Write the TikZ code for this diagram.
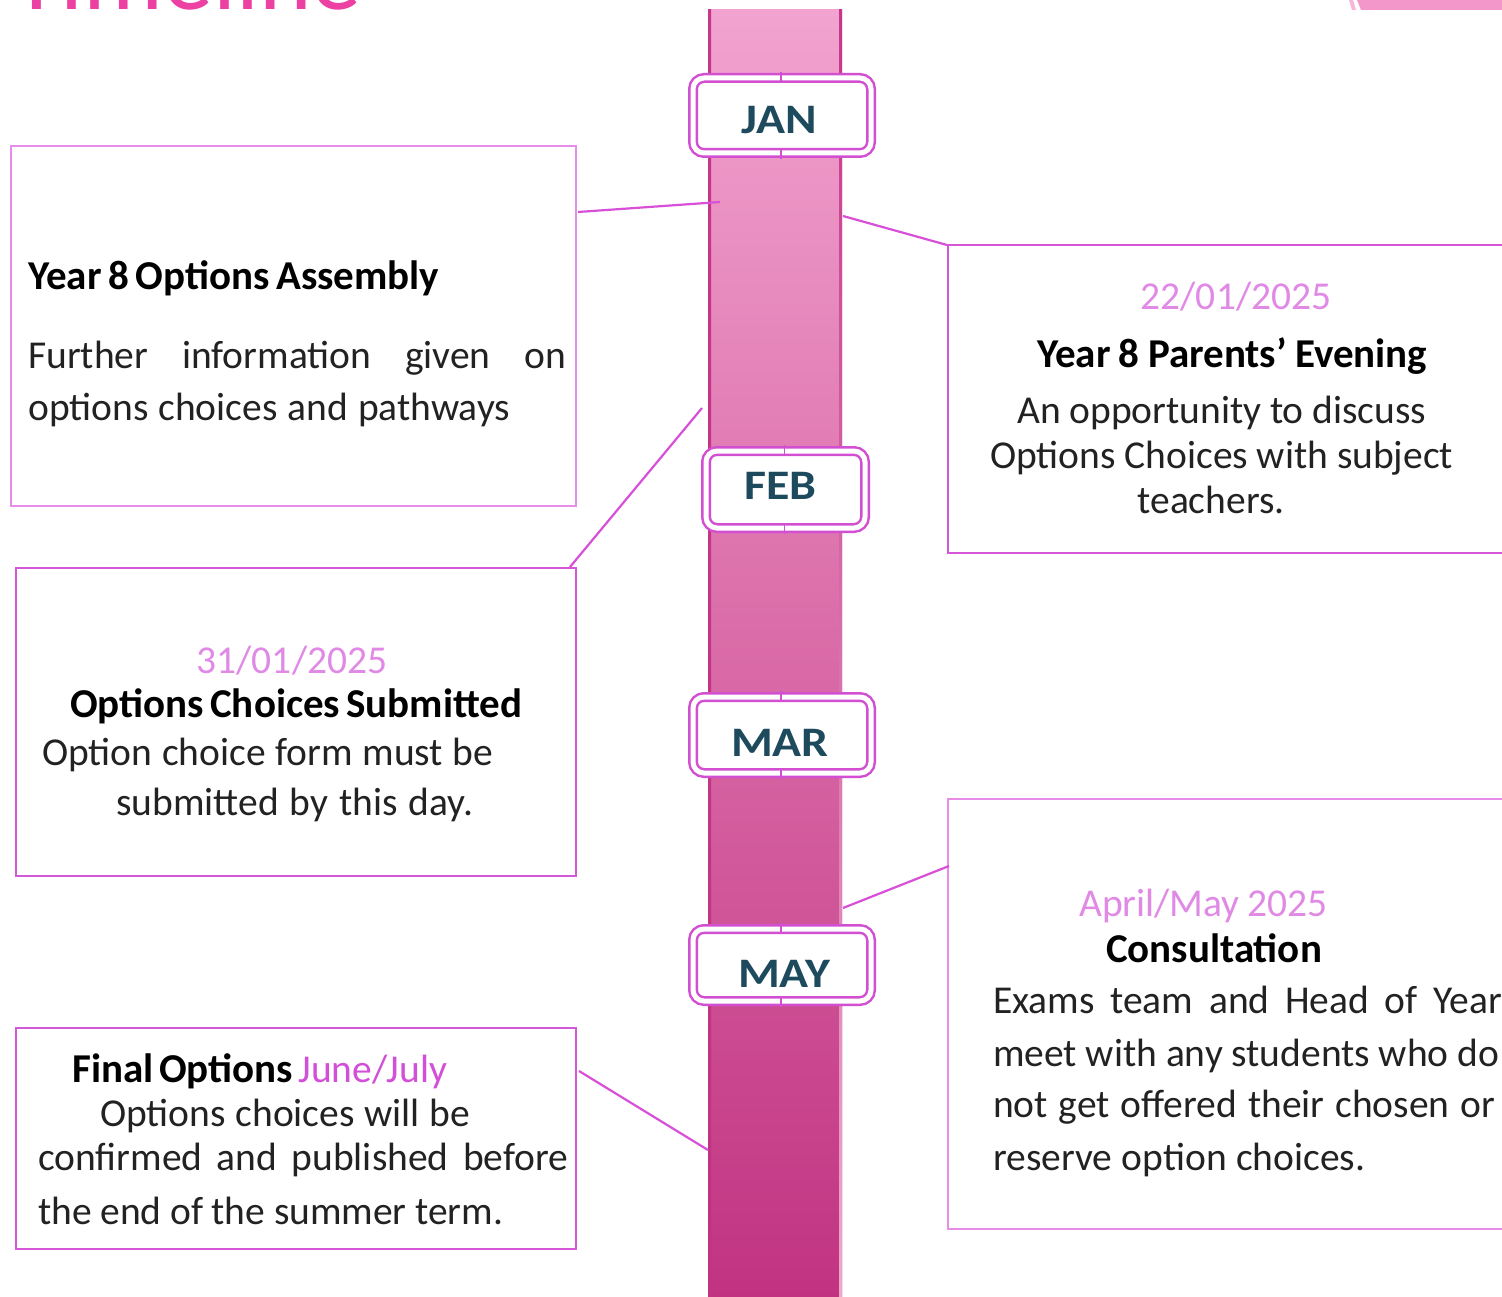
\documentclass[tikz,border=0pt]{standalone}
\usepackage{fontspec}
\usepackage{graphicx}
\setmainfont{Carlito}
\usetikzlibrary{calc}
\definecolor{barTop}{HTML}{F2A3CF}
\definecolor{barMid}{HTML}{DE7BB3}
\definecolor{barBot}{HTML}{C13381}
\definecolor{edgeDark}{HTML}{C4378A}
\definecolor{edgeLight}{HTML}{EBA9CD}
\definecolor{mline}{HTML}{D24FD2}
\definecolor{boxA}{HTML}{E68DEA}
\definecolor{boxB}{HTML}{D457D8}
\definecolor{connC}{HTML}{D850D8}
\definecolor{dateC}{HTML}{E08AE6}
\definecolor{juneC}{HTML}{D24FD8}
\definecolor{monthC}{HTML}{1E4A5E}
\definecolor{titleC}{HTML}{EC40A2}
\definecolor{cornerC}{HTML}{F397CA}
\definecolor{bodyC}{HTML}{222222}
\tikzset{
  evbox/.style={draw=boxB, line width=2pt, fill=white, rectangle, inner sep=0pt, anchor=north west},
  mbox/.style={draw=mline, line width=2.5pt, double=white, double distance=5pt, fill=white, rounded corners=11pt, inner sep=0pt},
  mtext/.style={text=monthC, font=\fontsize{42}{42}\selectfont\bfseries, inner sep=0pt},
  txt/.style={inner sep=0pt, font=\fontsize{39.5}{46}\selectfont, text=bodyC},
  connL/.style={draw=connC, line width=2.2pt},
  tickL/.style={draw=mline, line width=1.5pt}
}
\newcommand\jl[6]{\node[txt,anchor=base west] (#1) at (#2,#3) {\hbox to #4pt{#5\spaceskip=.22em plus 5em minus .1em\relax #6}};}
\newcommand\hb{\fontsize{41}{46}\selectfont\bfseries\color{black}}
\newcommand\mlab[1]{\scalebox{1.14}[1]{#1}}
\begin{document}
\begin{tikzpicture}[x=1pt,y=-1pt]
\useasboundingbox (0,0) rectangle (1502,1297);
\clip (0,0) rectangle (1502,1297);
\fill[white] (0,0) rectangle (1502,1297);

% cut-off title and corner shape
\node[anchor=base west, inner sep=0pt, text=titleC, font=\fontsize{100}{100}\selectfont] (title) at (12,10) {Timeline};
\fill[cornerC!70!white] (1349,0) -- (1353,0) -- (1356,10) -- (1352,10) -- cycle;
\fill[cornerC] (1357,0) -- (1502,0) -- (1502,10) -- (1361,10) -- cycle;

% timeline bar
\shade[top color=barTop, middle color=barMid, bottom color=barBot] (708,10) rectangle (842,1297);
\shade[top color=edgeDark, bottom color=barBot] (708,10) rectangle (711,1297);
\shade[top color=edgeDark, bottom color=edgeLight] (839,10) rectangle (842,1297);

% event boxes
\node[evbox, draw=boxA, minimum width=565pt, minimum height=360pt] (asmbox) at (10,145) {};
\node[evbox, minimum width=573pt, minimum height=308pt] (parbox) at (947,244) {};
\node[evbox, minimum width=560pt, minimum height=308pt] (subbox) at (15,567) {};
\node[evbox, draw=boxA, minimum width=573pt, minimum height=430pt] (conbox) at (947,798) {};
\node[evbox, minimum width=560pt, minimum height=221pt] (finbox) at (15,1027) {};

% connectors
\coordinate (b1) at (720,202);
\coordinate (b2) at (843,216);
\coordinate (b3) at (702,408);
\coordinate (b4) at (843,908);
\coordinate (b5) at (708,1150);
\draw[connL] ($(asmbox.north east)+(1,67)$) -- (b1);
\draw[connL] (b2) -- ($(parbox.north west)+(0,1)$);
\draw[connL] ($(subbox.north east)+(-7,0)$) -- (b3);
\draw[connL] (b4) -- ($(conbox.north west)+(2,68)$);
\draw[connL] ($(finbox.north east)+(2,44)$) -- (b5);

% month boxes
\node[mbox, minimum width=178pt, minimum height=75pt] (jan) at (782,115.5) {};
\node[mbox, minimum width=159pt, minimum height=77pt] (feb) at (785.5,489.5) {};
\node[mbox, minimum width=178pt, minimum height=76pt] (mar) at (782,735) {};
\node[mbox, minimum width=178pt, minimum height=72pt] (may) at (782,965) {};
\foreach \m in {jan,feb,mar,may}{
  \draw[tickL] ($(\m.north)+(-1,-5)$) -- ($(\m.north)+(-1,5)$);
  \draw[tickL] ($(\m.south)+(-1,-5)$) -- ($(\m.south)+(-1,5)$);
}
\node[mtext] (jant) at (779.5,120) {\mlab{JAN}};
\node[mtext] (febt) at (780.5,486) {\mlab{FEB}};
\node[mtext] (mart) at (780,743) {\mlab{MAR}};
\node[mtext] (mayt) at (784,974) {\mlab{MAY}};

% Assembly
\jl{a1}{28}{290}{411}{\hb}{Year 8 Options Assembly}
\jl{a2}{28}{368}{538}{}{Further information given on}
\jl{a3}{28}{420}{482}{}{options choices and pathways}

% Parents' evening
\node[txt, anchor=base, text=dateC] (p0) at (1236,310) {22/01/2025};
\jl{p1}{1037}{367}{390}{\hb}{Year 8 Parents’ Evening}
\jl{p2}{1017}{423}{409}{}{An opportunity to discuss}
\jl{p3}{990}{468}{463}{}{Options Choices with subject}
\node[txt, anchor=base] (p4) at (1211,513) {teachers.};

% Options submitted
\node[txt, anchor=base, text=dateC] (s0) at (292,673) {31/01/2025};
\jl{s1}{70}{717}{452}{\hb}{Options Choices Submitted}
\jl{s2}{42}{765}{451}{}{Option choice form must be}
\jl{s3}{116}{815}{357}{}{submitted by this day.}

% Consultation
\jl{c0}{1079}{916}{248}{\color{dateC}}{April/May 2025}
\node[txt, anchor=base, text=black, font=\fontsize{41}{46}\selectfont\bfseries] (c1) at (1214,962) {Consultation};
\jl{c2}{993}{1013}{509}{}{Exams team and Head of Year}
\jl{c3}{993}{1066}{506}{}{meet with any students who do}
\jl{c4}{993}{1117}{502}{}{not get offered their chosen or}
\jl{c5}{993}{1170}{372}{}{reserve option choices.}

% Final options
\jl{f1}{72}{1082}{375}{}{{\hb Final Options} {\color{juneC}June/July}}
\jl{f2}{100}{1126}{370}{}{Options choices will be}
\jl{f3}{38}{1170}{530}{}{confirmed and published before}
\jl{f4}{38}{1224}{465}{}{the end of the summer term.}
\end{tikzpicture}
\end{document}
